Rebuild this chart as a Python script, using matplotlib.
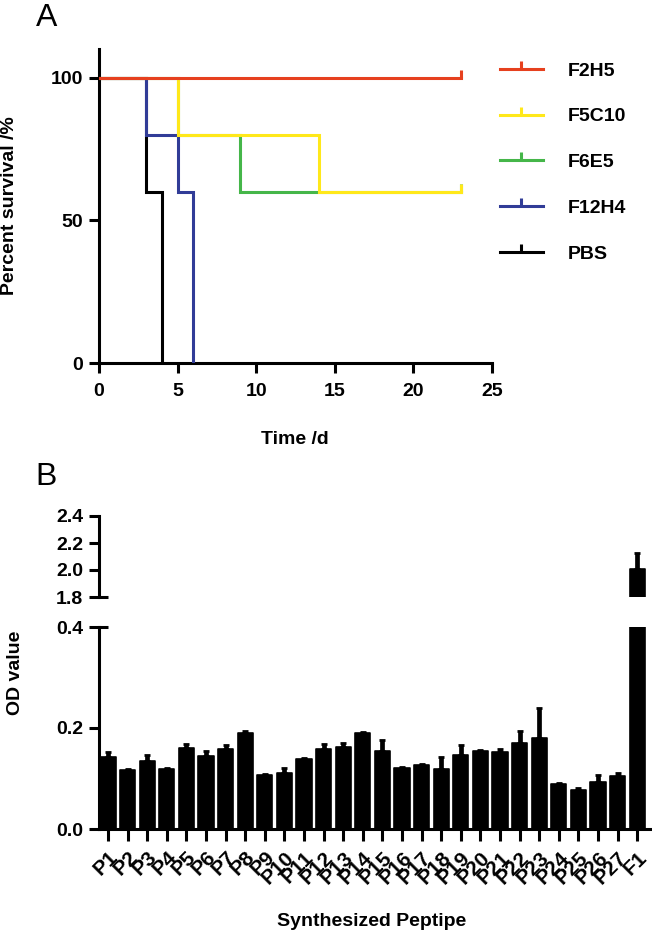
import numpy as np
import matplotlib.pyplot as plt
from matplotlib.lines import Line2D
import matplotlib.transforms as mtransforms

plt.rcParams['font.family'] = ['Liberation Sans', 'DejaVu Sans']
plt.rcParams['font.weight'] = 'bold'

W, H = 652, 935

# panel A: survival curves (days, percent)
groups = ['F2H5', 'F5C10', 'F6E5', 'F12H4', 'PBS']
colors = ['#E6401E', '#FFE81A', '#45B649', '#313C97', '#000000']
days = [[0, 23], [0, 5, 14, 23], [0, 5, 9, 23], [0, 3, 5, 6], [0, 3, 4]]
surv = [[100, 100], [100, 80, 60, 60], [100, 80, 60, 60], [100, 80, 60, 0], [100, 60, 0]]
censor_day = [23, 23, 23, None, None]
zorders = [6, 5, 4, 3, 2]

# panel B: OD values
peptides = ['P%d' % i for i in range(1, 28)] + ['F1']
od_mean = [0.142, 0.116, 0.135, 0.118, 0.161, 0.145, 0.158, 0.191, 0.106, 0.110,
           0.139, 0.159, 0.163, 0.190, 0.154, 0.120, 0.126, 0.119, 0.147, 0.155,
           0.152, 0.170, 0.181, 0.090, 0.077, 0.093, 0.104, 2.010]
od_err = [0.011, 0.002, 0.011, 0.002, 0.008, 0.010, 0.009, 0.004, 0.002, 0.010,
          0.002, 0.010, 0.008, 0.002, 0.022, 0.002, 0.002, 0.023, 0.019, 0.002,
          0.007, 0.025, 0.058, 0.001, 0.005, 0.013, 0.007, 0.116]

LW = 2.2
FS = 14

fig = plt.figure(figsize=(W / 100, H / 100), dpi=100)

def box(l, t, r, b):
    return [l / W, 1 - b / H, (r - l) / W, (b - t) / H]

# ---------- A ----------
axA = fig.add_axes(box(99, 49, 492, 363))
for g, c, d, s, cd, z in zip(groups, colors, days, surv, censor_day, zorders):
    axA.step(d, s, where='post', color=c, lw=LW, zorder=z, solid_joinstyle='miter')
    if cd is not None:
        axA.plot(cd, s[-1], marker=2, ms=6, mew=LW, color=c, zorder=z)
axA.set_xlim(0, 25)
axA.set_ylim(0, 110)
axA.set_xticks([0, 5, 10, 15, 20, 25])
axA.set_yticks([0, 50, 100])
for sp in ['top', 'right']:
    axA.spines[sp].set_visible(False)
for sp in ['left', 'bottom']:
    axA.spines[sp].set_linewidth(LW)
axA.tick_params(direction='out', length=7.5, width=LW, labelsize=FS)
axA.tick_params(axis='x', pad=7)
axA.tick_params(axis='y', pad=4)

handles = [Line2D([0], [0], color=c, lw=LW, marker=2, ms=6, mew=LW) for c in colors]
axA.legend(handles, groups, loc='upper left', bbox_to_anchor=(500 / W, 1 - 62 / H),
           bbox_transform=fig.transFigure, frameon=False, borderpad=0, borderaxespad=0,
           handlelength=2.2, handletextpad=1.3, labelspacing=1.45,
           prop={'size': FS, 'weight': 'bold'})

fig.text(10 / W, 1 - 206 / H, 'Percent survival /%', rotation=90, ha='center', va='center', fontsize=FS)
fig.text(295 / W, 1 - 440 / H, 'Time /d', ha='center', va='center', fontsize=FS)
fig.text(47 / W, 1 - 18 / H, 'A', ha='center', va='center', fontsize=23, fontweight='normal')

# ---------- B ----------
x = np.arange(len(peptides))
xl = (-0.46, 27.65)
axL = fig.add_axes(box(99, 627, 650, 829))
axU = fig.add_axes(box(99, 516, 650, 597))
for ax in (axL, axU):
    ax.bar(x, od_mean, width=0.78, color='black', edgecolor='black', lw=1.2,
           joinstyle='round', yerr=[np.zeros(len(x)), od_err],
           error_kw=dict(elinewidth=3.4, capsize=2.4, capthick=2, ecolor='black'))
    ax.set_xlim(*xl)
    for sp in ['top', 'right']:
        ax.spines[sp].set_visible(False)
    ax.spines['left'].set_linewidth(LW)
    ax.tick_params(direction='out', length=7.5, width=LW, labelsize=FS, pad=4)

axL.set_ylim(0, 0.4)
axL.set_yticks([0.0, 0.2, 0.4])
axL.set_yticklabels(['0.0', '0.2', '0.4'])
axL.spines['bottom'].set_linewidth(LW)
axL.set_xticks(x)
axL.set_xticklabels(peptides, rotation=45, ha='right', va='top', rotation_mode='anchor',
                    fontsize=15)
axL.tick_params(axis='x', length=8.5, pad=5)

axU.set_ylim(1.8, 2.4)
axU.set_yticks([1.8, 2.0, 2.2, 2.4])
axU.set_yticklabels(['1.8', '2.0', '2.2', '2.4'])
axU.spines['bottom'].set_visible(False)
axU.set_xticks([])

# break marks crossing the axis
for ax, yv in ((axU, 1.8), (axL, 0.4)):
    tr = mtransforms.blended_transform_factory(ax.transAxes, ax.transData)
    ax.plot([0, 9 / 551], [yv, yv], color='black', lw=LW, transform=tr, clip_on=False,
            solid_capstyle='butt')

fig.text(15 / W, 1 - 673 / H, 'OD value', rotation=90, ha='center', va='center', fontsize=FS)
fig.text(372 / W, 1 - 921 / H, 'Synthesized Peptipe', ha='center', va='center', fontsize=FS)
fig.text(46 / W, 1 - 477 / H, 'B', ha='center', va='center', fontsize=23, fontweight='normal')

fig.savefig('out.png', dpi=100)
